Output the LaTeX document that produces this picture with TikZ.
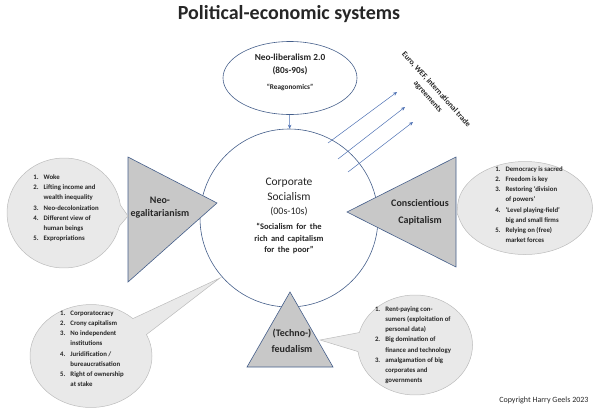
\documentclass[tikz,border=0pt]{standalone}
\usepackage{fontspec}
\setmainfont{Carlito}
\usetikzlibrary{arrows.meta,positioning,calc,shapes.geometric,shapes.callouts}

\definecolor{edgeblue}{RGB}{68,94,138}
\definecolor{arrblue}{RGB}{79,114,180}
\definecolor{trigray}{RGB}{200,200,200}
\definecolor{bubgray}{RGB}{233,233,233}
\definecolor{bubedge}{RGB}{188,188,188}
\definecolor{txt}{RGB}{38,38,38}

\begin{document}
\begin{tikzpicture}[x=1pt,y=-1pt,
  font=\fontsize{10}{13}\selectfont, text=txt,
  sys/.style={draw=edgeblue,line width=0.6pt,fill=white,inner sep=0pt},
  tri/.style={draw=edgeblue,line width=0.6pt,fill=trigray},
  lbl/.style={align=center,font=\bfseries\fontsize{10}{13}\selectfont},
  bub/.style={ellipse callout,draw=bubedge,fill=bubgray,line width=0.5pt,
              inner sep=0pt,callout pointer arc=22},
  lst/.style={font=\bfseries\fontsize{6.8}{10.2}\selectfont,inner sep=0pt},
  fl/.style={-{Stealth[length=4pt,width=3.5pt]},line width=0.5pt,draw=arrblue}
]
\useasboundingbox (0,0) rectangle (600,410);

\node[font=\bfseries\fontsize{20}{24}\selectfont] (title) at (289,14) {Political-economic systems};

% the eras
\node[sys,ellipse,minimum width=134pt,minimum height=73pt] (nl) at (290,78) {};
\node[align=center,font=\bfseries\fontsize{9.3}{13}\selectfont] (nltx) at (290,72)
  {Neo-liberalism 2.0\\(80s-90s)\\[3pt]{\fontsize{7.3}{9}\selectfont “Reagonomics”}};

\node[sys,circle,minimum size=178pt] (cs) at (289,218) {};
\node[text width=130pt,align=center,inner sep=0pt] (cstx) at (289,216)
  {\fontsize{11.5}{15}\selectfont Corporate\\Socialism\par
   \fontsize{10}{14}\selectfont (00s-10s)\par\vspace{4pt}
   \bfseries\fontsize{8.5}{11.5}\selectfont “Socialism for the\\rich and capitalism\\for the poor”\par};

\draw[fl] (nl) -- (cs);

% trade agreements
\coordinate (s1) at (328,143); \coordinate (e1) at (397,92);
\coordinate (s2) at (338,159); \coordinate (e2) at (405,107);
\coordinate (s3) at (348,172); \coordinate (e3) at (413,122);
\foreach \i in {1,2,3} \draw[fl] (s\i) -- (e\i);
\node[font=\bfseries\fontsize{7.9}{11}\selectfont,align=center,rotate=-48] (trade) at (432,93)
  {Euro, WEF, international trade\\agreements};

% the alternatives
\draw[tri] (128,157) -- (217,203) -- (128,282) -- cycle;
\draw[tri] (456,157) -- (347,212) -- (456,267) -- cycle;
\draw[tri] (290,292) -- (333,367) -- (247,367) -- cycle;
\node[lbl] (negal) at (160,207.5) {Neo-\\egalitarianism};
\node[lbl] (consc) at (420,212) {Conscientious\\[4pt]Capitalism};
\node[lbl] (techno) at (292,341) {(Techno-)\\[3pt]feudalism};

% callouts
\node[bub,minimum width=114pt,minimum height=110pt,callout absolute pointer={(128,216)}] (bl) at (64,213) {};
\node[lst] (bltx) at (66,208) {\begin{tabular}{@{}l@{\hspace{5pt}}l@{}}
  1. & Woke\\ 2. & Lifting income and\\ & wealth inequality\\ 3. & Neo-decolonization\\
  4. & Different view of\\ & human beings\\ 5. & Expropriations\end{tabular}};

\node[bub,minimum width=135pt,minimum height=93pt,callout absolute pointer={(457,213)}] (br) at (525,208) {};
\node[lst] (brtx) at (529,205) {\begin{tabular}{@{}l@{\hspace{5pt}}l@{}}
  1. & Democracy is sacred\\ 2. & Freedom is key\\ 3. & Restoring ‘division\\ & of powers’\\
  4. & ‘Level playing-field’\\ & big and small firms\\ 5. & Relying on (free)\\ & market forces\end{tabular}};

\node[bub,minimum width=122pt,minimum height=103pt,callout absolute pointer={(220,278)}] (bb) at (91,356) {};
\node[lst] (bbtx) at (92,349) {\begin{tabular}{@{}l@{\hspace{5pt}}l@{}}
  1. & Corporatocracy\\ 2. & Crony capitalism\\ 3. & No independent\\ & institutions\\
  4. & Juridification /\\ & bureaucratisation\\ 5. & Right of ownership\\ & at stake\end{tabular}};

\node[bub,minimum width=115pt,minimum height=100pt,callout absolute pointer={(320,340)}] (tb) at (415,345) {};
\node[lst] (tbtx) at (413,345) {\begin{tabular}{@{}l@{\hspace{5pt}}l@{}}
  1. & Rent-paying con-\\ & sumers (exploitation of\\ & personal data)\\ 2. & Big domination of\\
  & finance and technology\\ 3. & amalgamation of big\\ & corporates and\\ & governments\end{tabular}};

\node[anchor=east,font=\fontsize{8}{10}\selectfont] (copy) at (592,400) {Copyright Harry Geels 2023};

\end{tikzpicture}
\end{document}
